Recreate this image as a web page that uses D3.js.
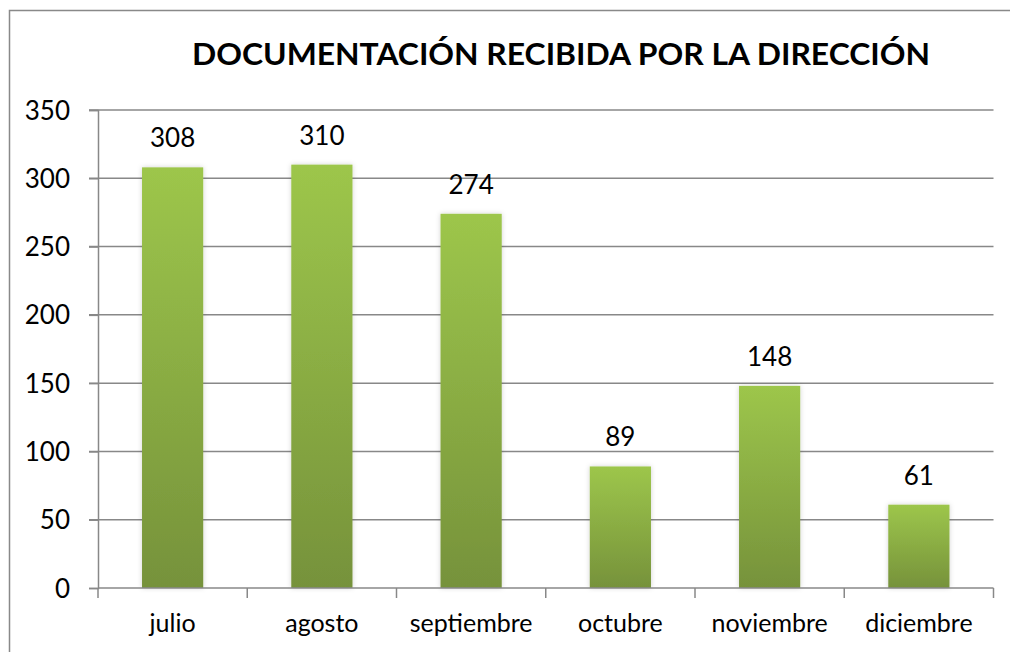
<!DOCTYPE html>
<html><head><meta charset="utf-8">
<script src="https://cdn.jsdelivr.net/npm/d3@7"></script>
<style>html,body{margin:0;padding:0;background:#fff;overflow:hidden;width:1010px;height:652px;}svg{display:block;}</style>
</head><body>
<script>
const title = "DOCUMENTACIÓN RECIBIDA POR LA DIRECCIÓN";
const categories = ["julio","agosto","septiembre","octubre","noviembre","diciembre"];
const values = [308,310,274,89,148,61];
const yTicks = [0,50,100,150,200,250,300,350];

const W = 1010, H = 652;
const svg = d3.select("body").append("svg").attr("width", W).attr("height", H);
const defs = svg.append("defs");
const grad = defs.append("linearGradient").attr("id","barGrad").attr("x1",0).attr("y1",0).attr("x2",0).attr("y2",1);
grad.append("stop").attr("offset","0%").attr("stop-color","#9dc64b");
grad.append("stop").attr("offset","100%").attr("stop-color","#76923b");
const f = defs.append("filter").attr("id","shadow").attr("x","-20%").attr("y","-10%").attr("width","140%").attr("height","120%");
f.append("feDropShadow").attr("dx",0).attr("dy",0).attr("stdDeviation",2.5).attr("flood-color","#000").attr("flood-opacity",0.18);

svg.append("path").attr("d","M9.5,652V10.5H1010")
  .attr("fill","none").attr("stroke","#898989").attr("stroke-width",1.5);

svg.append("text").attr("x",561).attr("y",65).attr("text-anchor","middle")
  .attr("font-family","Lato").attr("font-weight","bold").attr("font-size",31)
  .attr("textLength",738).attr("lengthAdjust","spacingAndGlyphs")
  .attr("fill","#000").text(title);

const x0 = 98, x1 = 993.5, yTop = 110, yBot = 588;
const x = d3.scaleBand().domain(categories).range([x0,x1]).paddingInner(0.59).paddingOuter(0.295);
const y = d3.scaleLinear().domain([0,350]).range([yBot,yTop]);

// gridlines
svg.append("g").selectAll("line").data(yTicks.filter(d=>d>0)).join("line")
  .attr("x1",89).attr("x2",x1).attr("y1",d=>y(d)).attr("y2",d=>y(d))
  .attr("stroke","#888").attr("stroke-width",1.5);

// y axis
const yAxis = d3.axisLeft(y).tickValues(yTicks).tickSize(9).tickPadding(19);
const ga = svg.append("g").attr("transform",`translate(${x0},0)`).call(yAxis);
ga.select(".domain").attr("stroke","#888").attr("stroke-width",1.5);
ga.selectAll(".tick line").attr("stroke","#888").attr("stroke-width",1.5);
ga.selectAll(".tick text").attr("font-family","Lato").attr("font-size",26).attr("fill","#000").attr("dy","0.35em");

// bars
svg.append("g").selectAll("rect").data(values).join("rect")
  .attr("x",(d,i)=>x(categories[i])).attr("width",x.bandwidth())
  .attr("y",d=>y(d)).attr("height",d=>yBot-y(d))
  .attr("fill","url(#barGrad)").attr("filter","url(#shadow)");

// x axis
const bounds = d3.range(categories.length+1).map(i=>x0 + i*(x1-x0)/categories.length);
const gx = svg.append("g");
gx.append("line").attr("x1",x0).attr("x2",x1).attr("y1",yBot).attr("y2",yBot).attr("stroke","#888").attr("stroke-width",1.5);
gx.selectAll("line.t").data(bounds).join("line").attr("class","t")
  .attr("x1",d=>d).attr("x2",d=>d).attr("y1",yBot).attr("y2",yBot+10).attr("stroke","#888").attr("stroke-width",1.5);
gx.selectAll("text").data(categories).join("text")
  .attr("x",d=>x(d)+x.bandwidth()/2).attr("y",632).attr("text-anchor","middle")
  .attr("font-family","Lato").attr("font-size",25).attr("fill","#000").text(d=>d);

// value labels
svg.append("g").selectAll("text").data(values).join("text")
  .attr("x",(d,i)=>x(categories[i])+x.bandwidth()/2).attr("y",d=>y(d)-20)
  .attr("text-anchor","middle").attr("font-family","Lato").attr("font-size",26).attr("fill","#000").text(d=>d);
</script>
</body></html>
